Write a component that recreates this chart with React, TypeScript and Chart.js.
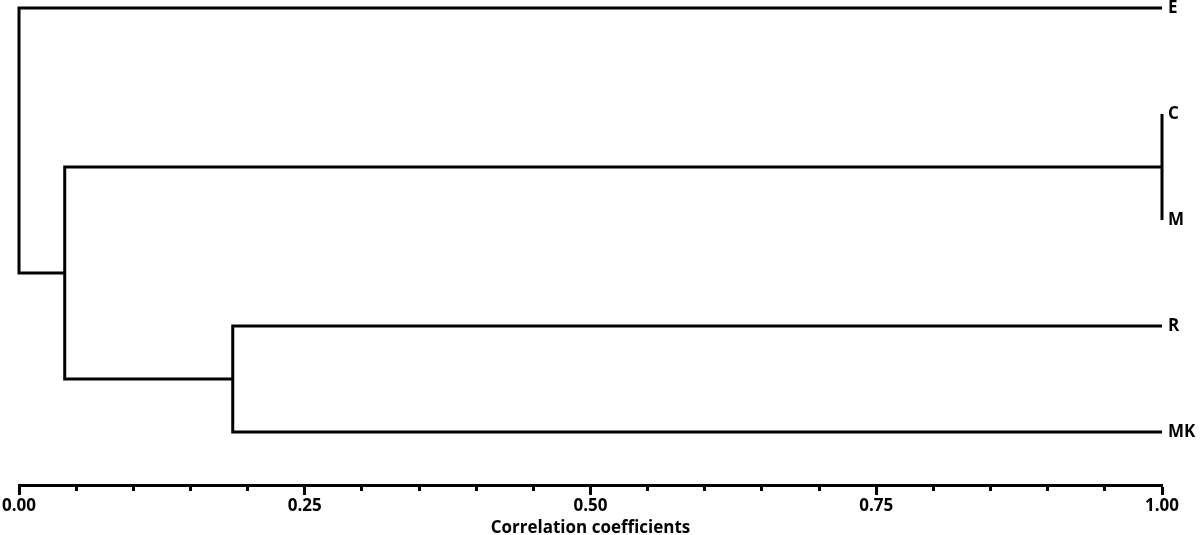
import { useEffect, useRef } from 'react';
import { Chart, registerables } from 'chart.js';

Chart.register(...registerables);

// Leaves (top to bottom) and hierarchical merges
const leafLabels = ['E', 'C', 'M', 'R', 'MK'];
const leafLevel = 1.0;
// node ids: 0..4 = leaves, 5.. = merges in order
const mergeLeft = [1, 3, 5, 0];
const mergeRight = [2, 4, 6, 7];
const mergeLevels = [1.0, 0.187, 0.04, 0.0];
const majorTicks = [0, 0.25, 0.5, 0.75, 1.0];
const minorTickCount = 20; // ticks every 0.05
const axisTitle = 'Correlation coefficients';

function buildSegments() {
  const nodes: { x: number; y: number }[] = leafLabels.map((_, i) => ({ x: leafLevel, y: i }));
  const segs: { x: number; y: number }[][] = [];
  mergeLevels.forEach((lvl, k) => {
    const a = nodes[mergeLeft[k]];
    const b = nodes[mergeRight[k]];
    segs.push([
      { x: a.x, y: a.y },
      { x: lvl, y: a.y },
      { x: lvl, y: b.y },
      { x: b.x, y: b.y },
    ]);
    nodes.push({ x: lvl, y: (a.y + b.y) / 2 });
  });
  return segs;
}

const isMajor = (v: number) => majorTicks.some((m) => Math.abs(m - v) < 1e-6);

export default function App() {
  const ref = useRef<HTMLCanvasElement | null>(null);
  useEffect(() => {
    if (!ref.current) return;
    const font = { family: "'Open Sans', sans-serif", size: 17, weight: 'bold' as const };
    const chart = new Chart(ref.current, {
      type: 'scatter',
      data: {
        datasets: buildSegments().map((pts) => ({
          data: pts,
          showLine: true,
          borderColor: '#000',
          borderWidth: 3,
          pointRadius: 0,
          tension: 0,
          borderJoinStyle: 'miter' as const,
          clip: false as any,
        })),
      },
      options: {
        responsive: false,
        animation: false,
        events: [],
        layout: { padding: { left: 19, top: 8, right: 0, bottom: 0 } },
        plugins: { legend: { display: false }, tooltip: { enabled: false } },
        scales: {
          x: {
            type: 'linear',
            position: 'bottom',
            min: 0,
            max: 1,
            afterBuildTicks: (s: any) => {
              const t = [];
              for (let i = 0; i <= minorTickCount; i++) t.push({ value: i / minorTickCount });
              s.ticks = t;
            },
            afterFit: (s: any) => {
              s.height = 50;
              s.paddingLeft = 0;
              s.paddingRight = 0;
            },
            border: { display: true, color: '#000', width: 3 },
            grid: {
              display: true,
              drawOnChartArea: false,
              drawTicks: true,
              tickLength: 10,
              tickWidth: 3,
              tickColor: '#000',
              tickBorderDash: (ctx: any) => (ctx.tick && isMajor(ctx.tick.value) ? [] : [4, 100]),
            } as any,
            ticks: {
              autoSkip: false,
              maxRotation: 0,
              padding: 1,
              color: '#000',
              font,
              callback: (v: any) => (isMajor(Number(v)) ? Number(v).toFixed(2) : ''),
            },
            title: {
              display: true,
              text: axisTitle,
              color: '#000',
              font,
              padding: { top: 0, bottom: -3 },
            },
          },
          y: {
            type: 'linear',
            position: 'right',
            reverse: true,
            min: 0,
            max: 4.5,
            afterBuildTicks: (s: any) => {
              s.ticks = leafLabels.map((_, i) => ({ value: i }));
            },
            afterFit: (s: any) => {
              s.width = 38;
              s.paddingTop = 0;
              s.paddingBottom = 0;
            },
            border: { display: false },
            grid: { display: false, drawTicks: false },
            ticks: {
              padding: 6,
              color: '#000',
              font: { ...font, lineHeight: 1 },
              callback: (v: any) => leafLabels[Number(v)] ?? '',
            },
          },
        },
      },
    });
    return () => chart.destroy();
  }, []);
  return (
    <div style={{ position: 'fixed', left: 0, top: 0, width: 1200, height: 535, background: '#fff' }}>
      <canvas ref={ref} width={1200} height={535} style={{ display: 'block' }} />
    </div>
  );
}
